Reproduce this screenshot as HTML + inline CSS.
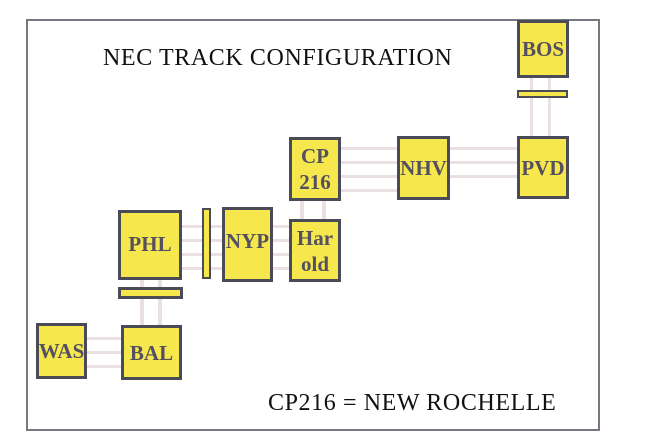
<!DOCTYPE html>
<html><head><style>
body{margin:0;width:648px;height:445px;background:#fff;position:relative;overflow:hidden;font-family:"Liberation Serif",serif}
.f{position:absolute;left:26px;top:19px;width:574px;height:412px;border:2px solid #77777f;box-sizing:border-box}
.b{position:absolute;background:#f6e84c;border:3px solid #4b4b58;box-sizing:border-box;color:#545060;font-weight:bold;font-size:21px;display:flex;align-items:center;justify-content:center;text-align:center;line-height:26px}
.t{position:absolute;background:#eadfe2}
.tx{position:absolute;color:#111;font-size:24px;white-space:nowrap;letter-spacing:0.6px}
</style></head><body>
<div class="f"></div>
<div class="t" style="left:340px;top:147px;width:177px;height:3px"></div>
<div class="t" style="left:340px;top:161px;width:177px;height:3px"></div>
<div class="t" style="left:340px;top:175px;width:177px;height:3px"></div>
<div class="t" style="left:340px;top:189px;width:60px;height:3px"></div>
<div class="t" style="left:530px;top:78px;width:3px;height:58px"></div>
<div class="t" style="left:548px;top:78px;width:3px;height:58px"></div>
<div class="t" style="left:300px;top:201px;width:4px;height:18px"></div>
<div class="t" style="left:322px;top:201px;width:4px;height:18px"></div>
<div class="t" style="left:181px;top:225px;width:108px;height:3px"></div>
<div class="t" style="left:181px;top:239px;width:108px;height:3px"></div>
<div class="t" style="left:181px;top:253px;width:108px;height:3px"></div>
<div class="t" style="left:181px;top:267px;width:108px;height:3px"></div>
<div class="t" style="left:140px;top:280px;width:4px;height:45px"></div>
<div class="t" style="left:158px;top:280px;width:4px;height:45px"></div>
<div class="t" style="left:86px;top:337px;width:35px;height:3px"></div>
<div class="t" style="left:86px;top:351px;width:35px;height:3px"></div>
<div class="t" style="left:86px;top:365px;width:35px;height:3px"></div>
<div class="b" style="left:517px;top:20px;width:52px;height:58px">BOS</div>
<div class="b" style="left:517px;top:90px;width:51px;height:8px;border-width:2px"></div>
<div class="b" style="left:517px;top:136px;width:52px;height:63px">PVD</div>
<div class="b" style="left:397px;top:136px;width:53px;height:64px">NHV</div>
<div class="b" style="left:289px;top:137px;width:52px;height:64px">CP<br>216</div>
<div class="b" style="left:289px;top:219px;width:52px;height:63px">Har<br>old</div>
<div class="b" style="left:222px;top:207px;width:51px;height:75px;align-items:flex-start;padding-top:18px">NYP</div>
<div class="b" style="left:202px;top:208px;width:9px;height:71px;border-width:2px"></div>
<div class="b" style="left:118px;top:210px;width:64px;height:70px;align-items:flex-start;padding-top:18px">PHL</div>
<div class="b" style="left:118px;top:287px;width:65px;height:12px"></div>
<div class="b" style="left:36px;top:323px;width:51px;height:56px">WAS</div>
<div class="b" style="left:121px;top:325px;width:61px;height:55px">BAL</div>
<div class="tx" style="left:103px;top:45px">NEC TRACK CONFIGURATION</div>
<div class="tx" style="left:268px;top:390px">CP216 = NEW ROCHELLE</div>
</body></html>
